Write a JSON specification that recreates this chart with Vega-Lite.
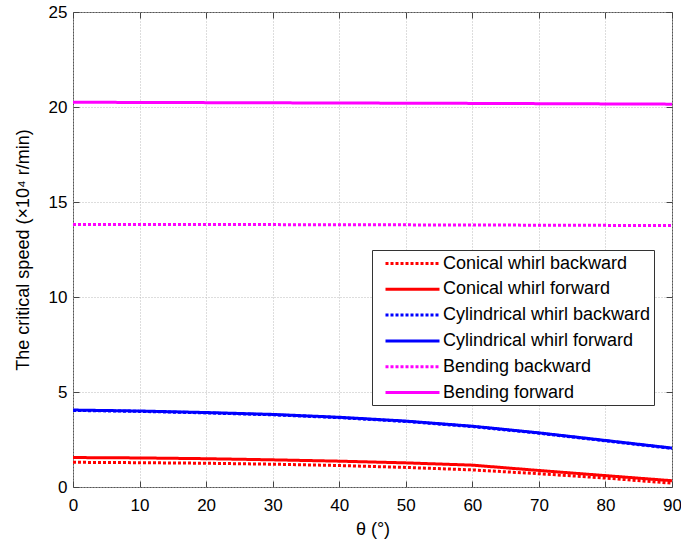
{
  "$schema": "https://vega.github.io/schema/vega-lite/v6.json",
  "width": 599,
  "height": 475,
  "autosize": "none",
  "padding": {"left": 73, "top": 12, "right": 9, "bottom": 56},
  "background": "white",
  "config": {
    "view": {"stroke": "#555555", "strokeWidth": 1},
    "font": "Liberation Sans"
  },
  "data": {
    "values": [
      {"theta": 0, "v": 1.3, "series": "Conical whirl backward"},
      {"theta": 10, "v": 1.28, "series": "Conical whirl backward"},
      {"theta": 20, "v": 1.25, "series": "Conical whirl backward"},
      {"theta": 30, "v": 1.2, "series": "Conical whirl backward"},
      {"theta": 40, "v": 1.13, "series": "Conical whirl backward"},
      {"theta": 50, "v": 1.03, "series": "Conical whirl backward"},
      {"theta": 60, "v": 0.9, "series": "Conical whirl backward"},
      {"theta": 70, "v": 0.7, "series": "Conical whirl backward"},
      {"theta": 80, "v": 0.47, "series": "Conical whirl backward"},
      {"theta": 90, "v": 0.2, "series": "Conical whirl backward"},
      {"theta": 0, "v": 1.55, "series": "Conical whirl forward"},
      {"theta": 10, "v": 1.53, "series": "Conical whirl forward"},
      {"theta": 20, "v": 1.49, "series": "Conical whirl forward"},
      {"theta": 30, "v": 1.43, "series": "Conical whirl forward"},
      {"theta": 40, "v": 1.36, "series": "Conical whirl forward"},
      {"theta": 50, "v": 1.27, "series": "Conical whirl forward"},
      {"theta": 60, "v": 1.15, "series": "Conical whirl forward"},
      {"theta": 70, "v": 0.87, "series": "Conical whirl forward"},
      {"theta": 80, "v": 0.6, "series": "Conical whirl forward"},
      {"theta": 90, "v": 0.33, "series": "Conical whirl forward"},
      {"theta": 0, "v": 4.03, "series": "Cylindrical whirl backward"},
      {"theta": 10, "v": 3.98, "series": "Cylindrical whirl backward"},
      {"theta": 20, "v": 3.9, "series": "Cylindrical whirl backward"},
      {"theta": 30, "v": 3.8, "series": "Cylindrical whirl backward"},
      {"theta": 40, "v": 3.65, "series": "Cylindrical whirl backward"},
      {"theta": 50, "v": 3.45, "series": "Cylindrical whirl backward"},
      {"theta": 60, "v": 3.18, "series": "Cylindrical whirl backward"},
      {"theta": 70, "v": 2.83, "series": "Cylindrical whirl backward"},
      {"theta": 80, "v": 2.43, "series": "Cylindrical whirl backward"},
      {"theta": 90, "v": 2.03, "series": "Cylindrical whirl backward"},
      {"theta": 0, "v": 4.05, "series": "Cylindrical whirl forward"},
      {"theta": 10, "v": 4.0, "series": "Cylindrical whirl forward"},
      {"theta": 20, "v": 3.92, "series": "Cylindrical whirl forward"},
      {"theta": 30, "v": 3.82, "series": "Cylindrical whirl forward"},
      {"theta": 40, "v": 3.67, "series": "Cylindrical whirl forward"},
      {"theta": 50, "v": 3.47, "series": "Cylindrical whirl forward"},
      {"theta": 60, "v": 3.2, "series": "Cylindrical whirl forward"},
      {"theta": 70, "v": 2.85, "series": "Cylindrical whirl forward"},
      {"theta": 80, "v": 2.45, "series": "Cylindrical whirl forward"},
      {"theta": 90, "v": 2.05, "series": "Cylindrical whirl forward"},
      {"theta": 0, "v": 13.82, "series": "Bending backward"},
      {"theta": 30, "v": 13.81, "series": "Bending backward"},
      {"theta": 60, "v": 13.79, "series": "Bending backward"},
      {"theta": 90, "v": 13.76, "series": "Bending backward"},
      {"theta": 0, "v": 20.25, "series": "Bending forward"},
      {"theta": 30, "v": 20.22, "series": "Bending forward"},
      {"theta": 60, "v": 20.19, "series": "Bending forward"},
      {"theta": 90, "v": 20.15, "series": "Bending forward"}
    ]
  },
  "layer": [
    {
      "mark": {"type": "line", "strokeWidth": 3, "clip": true},
      "encoding": {
        "x": {
          "field": "theta", "type": "quantitative",
          "scale": {"domain": [0, 90], "nice": false},
          "axis": {
            "title": "θ (°)", "titleFontSize": 18, "titleFontWeight": "normal", "titleColor": "black", "titlePadding": 7,
            "values": [0, 10, 20, 30, 40, 50, 60, 70, 80, 90], "labelFlush": false,
            "labelFontSize": 17, "labelColor": "black", "labelPadding": 16,
            "tickSize": -6, "tickColor": "#444", "domain": false,
            "grid": true, "gridDash": [1, 2], "gridColor": "#bbbbbb"
          }
        },
        "y": {
          "field": "v", "type": "quantitative",
          "scale": {"domain": [0, 25], "nice": false},
          "axis": {
            "title": "The critical speed (×10⁴ r/min)", "titleFontSize": 18, "titleFontWeight": "normal", "titleColor": "black", "titlePadding": 16,
            "values": [0, 5, 10, 15, 20, 25], "labelFlush": false,
            "labelFontSize": 17, "labelColor": "black", "labelPadding": 12,
            "tickSize": -6, "tickColor": "#444", "domain": false,
            "grid": true, "gridDash": [1, 2], "gridColor": "#bbbbbb"
          }
        },
        "color": {
          "field": "series", "type": "nominal",
          "scale": {
            "domain": ["Conical whirl backward", "Conical whirl forward", "Cylindrical whirl backward", "Cylindrical whirl forward", "Bending backward", "Bending forward"],
            "range": ["#ff0000", "#ff0000", "#0000ff", "#0000ff", "#ff00ff", "#ff00ff"]
          },
          "legend": {
            "title": null, "orient": "none", "legendX": 299, "legendY": 238,
            "symbolType": "M0,0H6", "symbolSize": 324, "symbolStrokeWidth": 3,
            "labelFontSize": 18, "labelColor": "black", "labelLimit": 400,
            "strokeColor": "#333", "fillColor": "white", "padding": 3,
            "rowPadding": 5.8, "labelOffset": 47
          }
        },
        "strokeDash": {
          "field": "series", "type": "nominal",
          "scale": {
            "domain": ["Conical whirl backward", "Conical whirl forward", "Cylindrical whirl backward", "Cylindrical whirl forward", "Bending backward", "Bending forward"],
            "range": [[3, 2], [1, 0], [3, 2], [1, 0], [3, 2], [1, 0]]
          }
        }
      }
    },
    {
      "mark": {"type": "rule", "opacity": 0},
      "data": {"values": [{"theta": 0, "v": 0}]},
      "encoding": {
        "x": {"field": "theta", "type": "quantitative",
          "axis": {"orient": "top", "title": null, "labels": false, "values": [0, 10, 20, 30, 40, 50, 60, 70, 80, 90], "tickSize": -6, "tickColor": "#444", "domain": false, "grid": false}},
        "y": {"field": "v", "type": "quantitative",
          "axis": {"orient": "right", "title": null, "labels": false, "values": [0, 5, 10, 15, 20, 25], "tickSize": -6, "tickColor": "#444", "domain": false, "grid": false}}
      }
    }
  ],
  "resolve": {"axis": {"x": "independent", "y": "independent"}}
}
